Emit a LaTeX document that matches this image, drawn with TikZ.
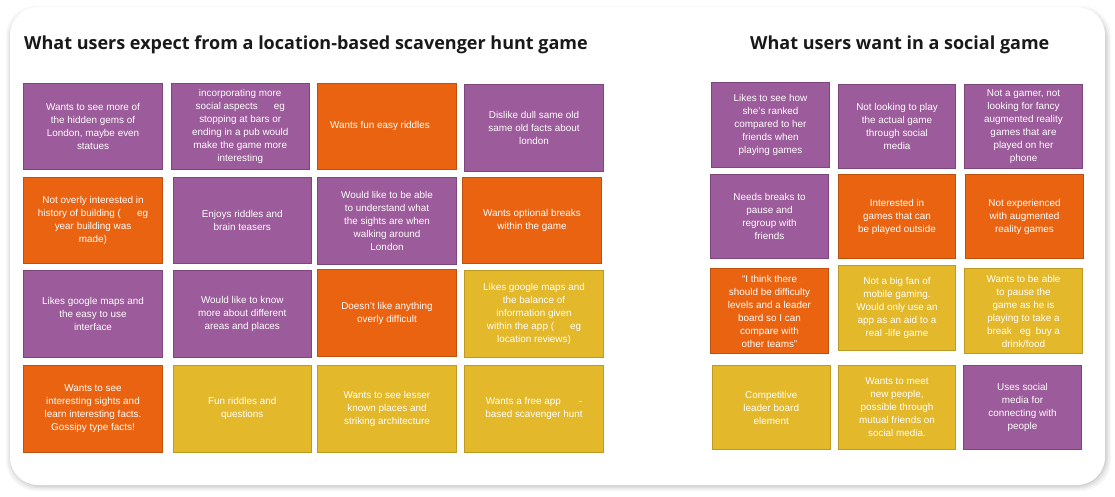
\documentclass[tikz,border=0pt]{standalone}
\usepackage{fontspec}
\setmainfont{Liberation Sans}
\newfontfamily\titlefont{Open Sans}[UprightFont=* Bold]
\usetikzlibrary{positioning}
\definecolor{npurple}{HTML}{9C5B9A}
\definecolor{npurpleD}{HTML}{7E477C}
\definecolor{norange}{HTML}{E96311}
\definecolor{norangeD}{HTML}{C0500E}
\definecolor{nyellow}{HTML}{E3B82A}
\definecolor{nyellowD}{HTML}{BF9A22}
\newcommand\gap[1]{\hspace*{#1pt}}
\newcommand\stick[7]{\node[#2, minimum width={#5-#3}, minimum height={#6-#4}] (#1) at ({(#3+#5)/2},{(#4+#6)/2}) {#7};}
\tikzset{
  note/.style={draw, line width=0.8pt, inner sep=0pt, text=white, align=center,
    font=\fontsize{9.9}{13}\selectfont},
  pnote/.style={note, fill=npurple, draw=npurpleD},
  onote/.style={note, fill=norange, draw=norangeD},
  ynote/.style={note, fill=nyellow, draw=nyellowD},
  heading/.style={anchor=base west, inner sep=0pt, font=\titlefont\fontsize{18}{22}\selectfont, text=black!90},
}
\begin{document}
\begin{tikzpicture}[x=1pt,y=-1pt]
\useasboundingbox (0,0) rectangle (1115,496);
\fill[white] (0,0) rectangle (1115,496);
% card shadow
\foreach \o/\op in {6/0.03,4.5/0.04,3/0.05,1.5/0.06}{
  \fill[black, opacity=\op, rounded corners=30pt] (10-\o+2,7-\o+5) rectangle (1105+\o,485+\o);
}
\fill[white, rounded corners=28pt] (10,7) rectangle (1105,485);
% titles
\node[heading] (t1) at (24,49.5) {What users expect from a location-based scavenger hunt game};
\node[heading] (t2) at (750,49.5) {What users want in a social game};
% left grid
\stick{l1}{pnote}{23.5}{83}{162.5}{169}{Wants to see more of\\the hidden gems of\\London, maybe even\\statues}
\stick{l2}{pnote}{171}{83}{309.5}{169}{incorporating more\\social aspects\gap{16}eg\\stopping at bars or\\ending in a pub would\\make the game more\\interesting}
\stick{l3}{onote}{317.5}{83}{456.5}{169}{Wants fun easy riddles\gap{14}}
\stick{l4}{pnote}{464.5}{84.5}{603.5}{171}{Dislike dull same old\\same old facts about\\london}
\stick{l5}{onote}{23.5}{177}{162.5}{263.5}{Not overly interested in\\history of building (\gap{16}eg\\year building was\\made)}
\stick{l6}{pnote}{173}{177}{311.5}{263.5}{Enjoys riddles and\\brain teasers}
\stick{l7}{pnote}{317.5}{177.5}{456.5}{264}{Would like to be able\\to understand what\\the sights are when\\walking around\\London}
\stick{l8}{onote}{462.5}{177}{601.5}{263.5}{Wants optional breaks\\within the game}
\stick{l9}{pnote}{23.5}{270}{162.5}{357}{Likes google maps and\\the easy to use\\interface}
\stick{l10}{pnote}{173}{270}{311.5}{357}{Would like to know\\more about different\\areas and places}
\stick{l11}{onote}{317.5}{269.5}{456.5}{356.5}{Doesn’t like anything\\overly difficult}
\stick{l12}{ynote}{464.5}{270}{603.5}{357.5}{Likes google maps and\\the balance of\\information given\\within the app (\gap{16}eg\\location reviews)}
\stick{l13}{onote}{23.5}{365}{162.5}{452.5}{Wants to see\\interesting sights and\\learn interesting facts.\\Gossipy type facts!}
\stick{l14}{ynote}{173}{365}{311.5}{452.5}{Fun riddles and\\questions}
\stick{l15}{ynote}{317.5}{365}{456.5}{452.5}{Wants to see lesser\\known places and\\striking architecture}
\stick{l16}{ynote}{464.5}{365}{603.5}{452.5}{Wants a free app\gap{18}-\\based scavenger hunt}
% right grid
\stick{r1}{pnote}{711.5}{82.5}{829.5}{167.5}{Likes to see how\\she’s ranked\\compared to her\\friends when\\playing games}
\stick{r2}{pnote}{838.5}{84}{955.5}{168.5}{Not looking to play\\the actual game\\through social\\media}
\stick{r3}{pnote}{964.5}{84}{1082.5}{168.5}{Not a gamer, not\\looking for fancy\\augmented reality\\games that are\\played on her\\phone}
\stick{r4}{pnote}{710.5}{174.5}{828.5}{258.5}{Needs breaks to\\pause and\\regroup with\\friends}
\stick{r5}{onote}{838.5}{174.5}{955.5}{258.5}{Interested in\\games that can\\be played outside}
\stick{r6}{onote}{965.5}{174.5}{1083.5}{258.5}{Not experienced\\with augmented\\reality games}
\stick{r7}{onote}{710.5}{268.5}{828.5}{353.5}{“I think there\\should be difficulty\\levels and a leader\\board so I can\\compare with\\other teams”}
\stick{r8}{ynote}{838.5}{265.5}{955.5}{350}{Not a big fan of\\mobile gaming.\\Would only use an\\app as an aid to a\\real -life game}
\stick{r9}{ynote}{964.5}{268.5}{1082.5}{353.5}{Wants to be able\\to pause the\\game as he is\\playing to take a\\break\gap{8}eg\gap{5}buy a\\drink/food}
\stick{r10}{ynote}{712.5}{365.5}{830}{449.5}{Competitive\\leader board\\element}
\stick{r11}{ynote}{838.5}{365.5}{955.5}{449.5}{Wants to meet\\new people,\\possible through\\mutual friends on\\social media.}
\stick{r12}{pnote}{963.5}{365.5}{1081.5}{449.5}{Uses social\\media for\\connecting with\\people}
\end{tikzpicture}
\end{document}
